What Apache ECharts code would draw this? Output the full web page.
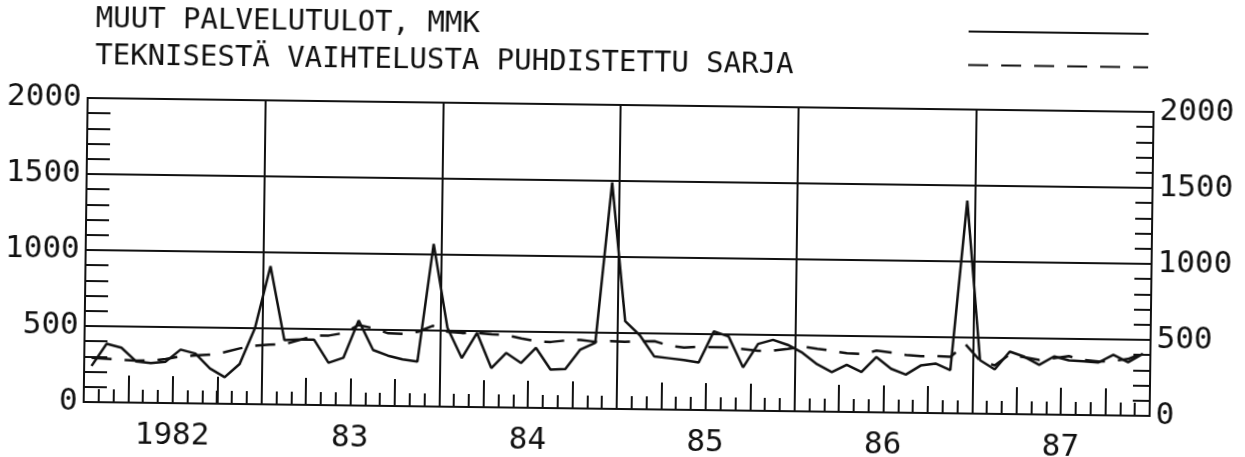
<!DOCTYPE html>
<html>
<head>
<meta charset="utf-8">
<script src="https://cdn.jsdelivr.net/npm/echarts@6/dist/echarts.min.js"></script>
<style>
html,body{margin:0;padding:0;background:#fff;overflow:hidden;}
#chart{width:1245px;height:457px;transform:rotate(0.75deg);transform-origin:50% 50%;}
</style>
</head>
<body>
<div id="chart"></div>
<script>
// ---- data ----
var years = ['1982', '83', '84', '85', '86', '87'];
var quarters = ['Q1', 'Q2', 'Q3', 'Q4'];
var monthNames = ['01','02','03','04','05','06','07','08','09','10','11','12'];
var titleLines = ['MUUT PALVELUTULOT, MMK', 'TEKNISESTÄ VAIHTELUSTA PUHDISTETTU SARJA'];
// Muut palvelutulot, Mmk (monthly, 1982-1987)
var incomeRaw = [
  238, 385, 360, 272, 262, 272, 353, 328, 231, 175, 263, 500,
  910, 424, 430, 430, 279, 313, 560, 367, 331, 308, 294, 1070,
  520, 321, 488, 258, 359, 294, 395, 253, 259, 388, 434, 1490,
  578, 487, 348, 338, 327, 313, 519, 486, 284, 440, 468, 436,
  385, 311, 261, 310, 264, 364, 288, 251, 312, 326, 284, 1400,
  352, 293, 411, 378, 327, 383, 358, 353, 347, 399, 351, 409
];
// Teknisestä vaihtelusta puhdistettu sarja
var incomeAdjusted = [
  291, 286, 281, 276, 278, 289, 309, 315, 323, 340, 366, 385,
  393, 397, 425, 456, 458, 476, 530, 510, 478, 475, 490, 531,
  493, 486, 488, 481, 477, 455, 438, 435, 446, 451, 440, 446,
  442, 447, 449, 420, 410, 415, 415, 415, 405, 395, 397, 410,
  426, 413, 401, 386, 382, 406, 394, 380, 373, 376, 372, 455,
  349, 319, 393, 375, 359, 372, 386, 362, 353, 358, 373, 414
];
var yTicksMajor = 500;
var yTicksMinor = 100;
var yMin = 0, yMax = 2000;

// ---- derived categories ----
var months = [];
var quarterCats = [];
years.forEach(function (y) {
  monthNames.forEach(function (m) { months.push(y + '-' + m); });
  quarters.forEach(function (q) { quarterCats.push(y + '-' + q); });
});

var FONT = 'DejaVu Sans Mono';
var BLACK = '#111';
function plain(v) { return String(v); }

var chart = echarts.init(document.getElementById('chart'), null, {renderer: 'canvas'});
chart.setOption({
  animation: false,
  backgroundColor: '#fff',
  title: {
    text: titleLines.join('\n'),
    left: 88,
    top: 3,
    textStyle: {fontFamily: FONT, fontSize: 29, fontWeight: 'normal', color: BLACK, lineHeight: 37}
  },
  legend: {
    data: titleLines,
    orient: 'vertical',
    left: 960,
    top: 15,
    itemWidth: 180,
    itemHeight: 14,
    itemGap: 21,
    formatter: function () { return ''; },
    textStyle: {fontSize: 1},
    itemStyle: {color: 'transparent', borderWidth: 0, opacity: 0},
    selectedMode: false
  },
  grid: {
    left: 86, right: 93, top: 105, bottom: 48,
    outerBoundsMode: 'none', containLabel: false,
    show: true, borderColor: BLACK, borderWidth: 2, backgroundColor: 'transparent'
  },
  xAxis: [
    {
      type: 'category', data: months, position: 'bottom', boundaryGap: true,
      axisLine: {show: true, lineStyle: {color: BLACK, width: 2}},
      axisTick: {show: true, inside: true, length: 13, interval: 0, lineStyle: {color: BLACK, width: 2}},
      axisLabel: {show: false}, splitLine: {show: false}
    },
    {
      type: 'category', data: years, position: 'bottom', boundaryGap: true,
      axisLine: {show: false}, axisTick: {show: false},
      axisLabel: {show: true, interval: 0, fontFamily: FONT, fontSize: 31, color: BLACK, margin: 17},
      splitLine: {show: true, interval: 0, lineStyle: {color: BLACK, width: 2}}
    },
    {
      type: 'category', data: quarterCats, position: 'bottom', boundaryGap: true,
      axisLine: {show: false},
      axisTick: {show: true, inside: true, length: 27, interval: 0, lineStyle: {color: BLACK, width: 2}},
      axisLabel: {show: false}, splitLine: {show: false}
    }
  ],
  yAxis: [
    {
      type: 'value', min: yMin, max: yMax, interval: yTicksMajor, position: 'left',
      axisLine: {show: true, lineStyle: {color: BLACK, width: 2}},
      axisTick: {show: false},
      axisLabel: {fontFamily: FONT, fontSize: 31, color: BLACK, margin: 6, formatter: plain},
      splitLine: {show: true, lineStyle: {color: BLACK, width: 2}}
    },
    {
      type: 'value', min: yMin, max: yMax, interval: yTicksMinor, position: 'left',
      axisLine: {show: false},
      axisTick: {show: true, inside: true, length: 23, lineStyle: {color: BLACK, width: 2}},
      axisLabel: {show: false}, splitLine: {show: false}
    },
    {
      type: 'value', min: yMin, max: yMax, interval: yTicksMajor, position: 'right',
      axisLine: {show: true, lineStyle: {color: BLACK, width: 2}},
      axisTick: {show: false},
      axisLabel: {fontFamily: FONT, fontSize: 31, color: BLACK, margin: 6, formatter: plain},
      splitLine: {show: false}
    },
    {
      type: 'value', min: yMin, max: yMax, interval: yTicksMinor, position: 'right',
      axisLine: {show: false},
      axisTick: {show: true, inside: true, length: 17, lineStyle: {color: BLACK, width: 2}},
      axisLabel: {show: false}, splitLine: {show: false}
    }
  ],
  series: [
    {
      name: titleLines[0], type: 'line', data: incomeRaw, xAxisIndex: 0, yAxisIndex: 0,
      symbol: 'none', lineStyle: {color: BLACK, width: 2.5, type: 'solid'}, itemStyle: {color: BLACK}, z: 3
    },
    {
      name: titleLines[1], type: 'line', data: incomeAdjusted, xAxisIndex: 0, yAxisIndex: 0,
      symbol: 'none', lineStyle: {color: BLACK, width: 2.5, type: [20, 13]}, itemStyle: {color: BLACK}, z: 4
    }
  ]
});
</script>
</body>
</html>
